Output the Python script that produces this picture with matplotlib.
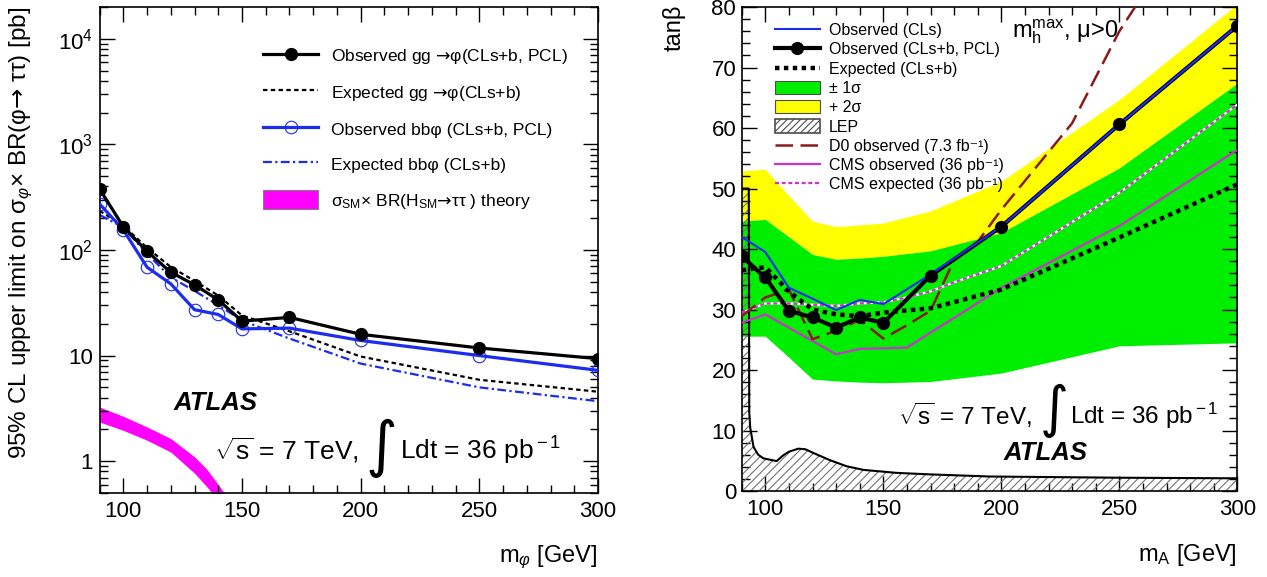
import numpy as np
import matplotlib
matplotlib.use('Agg')
import matplotlib.pyplot as plt
from matplotlib.lines import Line2D
from matplotlib.patches import Patch
from matplotlib.ticker import FixedLocator, FixedFormatter, MultipleLocator, LogLocator, NullFormatter

plt.rcParams['font.family'] = ['Liberation Sans', 'DejaVu Sans']
plt.rcParams['mathtext.fontset'] = 'custom'
plt.rcParams['mathtext.rm'] = 'Liberation Sans'
plt.rcParams['mathtext.it'] = 'Liberation Sans:italic'
plt.rcParams['mathtext.bf'] = 'Liberation Sans:bold'
plt.rcParams['mathtext.sf'] = 'DejaVu Sans'
plt.rcParams['hatch.linewidth'] = 0.8

# ---- left: cross section limits ----
mass = [90, 100, 110, 120, 130, 140, 150, 170, 200, 250, 300]
obs_gg = [378, 166, 97, 61.5, 46.8, 33.7, 21.2, 23.0, 15.9, 11.8, 9.35]
exp_gg = [235, 170, 105, 69, 51, 37, 24, 17, 9.8, 5.9, 4.55]
obs_bb = [273, 155, 68.7, 47.8, 27.2, 24.5, 17.9, 18.2, 13.9, 10.0, 7.25]
exp_bb = [215, 164, 92, 55, 41, 30, 21.5, 14.5, 8.4, 5.0, 3.7]
sm_mass = [90, 100, 110, 120, 130, 135, 140, 145]
sm_hi = [3.26, 2.66, 2.11, 1.64, 1.10, 0.85, 0.60, 0.42]
sm_lo = [2.35, 1.96, 1.58, 1.22, 0.77, 0.58, 0.42, 0.30]

# ---- right: tan(beta) limits ----
ma = [90, 100, 110, 120, 130, 140, 150, 170, 200, 250, 300]
obs_pcl = [38.8, 35.3, 29.8, 28.7, 27.0, 28.7, 27.8, 35.6, 43.7, 60.6, 76.9]
obs_cls = [42.0, 39.5, 33.6, 31.8, 29.9, 31.6, 30.9, 35.8, 43.7, 60.6, 76.9]
exp_clsb = [36.5, 37.0, 33.0, 30.0, 29.2, 28.9, 29.5, 30.2, 33.3, 41.9, 50.7]
sig1_lo = [25.6, 25.6, 22.1, 18.5, 18.2, 18.0, 17.9, 18.1, 19.5, 24.0, 24.5]
sig1_hi = [44.6, 44.9, 42.0, 39.1, 38.3, 38.5, 38.8, 39.7, 42.7, 53.4, 67.4]
sig2_hi = [52.9, 53.2, 48.8, 44.6, 43.7, 44.0, 44.3, 46.3, 51.2, 64.7, 80.5]
d0_m = [90, 100, 110, 120, 130, 140, 150, 160, 170, 180, 190, 200, 230, 250, 260]
d0_tb = [28.9, 32.0, 33.3, 25.1, 26.5, 28.3, 25.2, 27.4, 29.8, 38.2, 41.2, 46.5, 60.8, 76.0, 82.0]
cms_m = [90, 100, 110, 120, 130, 140, 150, 160, 170, 180, 200, 250, 300]
cms_obs = [27.8, 29.2, 27.0, 24.8, 22.6, 23.5, 23.6, 23.7, 26.2, 28.6, 33.6, 43.8, 56.4]
cms_exp = [29.5, 31.0, 31.0, 30.8, 30.6, 31.0, 31.2, 32.0, 33.0, 34.5, 37.2, 49.3, 63.9]
lep_m = [90, 93, 93.2, 93.6, 95, 97, 99.2, 104.8, 107.6, 110, 114, 117, 120.3,
         127.4, 134.4, 141.5, 155.6, 169.8, 195, 250, 300]
lep_tb = [50, 50, 13, 10.5, 7.3, 6.0, 5.4, 4.95, 5.9, 6.5, 7.0, 6.9, 6.3,
          5.1, 4.1, 3.5, 3.0, 2.75, 2.4, 2.2, 2.1]

blue = '#1c2cf0'
d0_col = '#8b1a1a'
cms_col = '#cc33cc'
arrow = r'$\mathsf{→}$'


def root_style(ax):
    ax.tick_params(which='both', direction='in', top=True, right=True, labelsize=16)
    ax.tick_params(which='major', length=11, width=1)
    ax.tick_params(which='minor', length=5.5, width=1)
    for s in ax.spines.values():
        s.set_linewidth(1.2)


fig = plt.figure(figsize=(12.67, 5.77), dpi=100)

# ================= left panel =================
ax1 = fig.add_axes([0.0786, 0.1456, 0.3934, 0.8423])
ax1.set_yscale('log')
ax1.fill_between(sm_mass, sm_lo, sm_hi, color='#ff00ff', lw=0, zorder=1)
ax1.plot(mass, exp_gg, color='black', ls=(0, (2, 1.5)), lw=1.6, zorder=2)
ax1.plot(mass, exp_bb, color=blue, ls=(0, (4, 1.5, 1, 1.5)), lw=1.6, zorder=2)
ax1.plot(mass, obs_bb, color=blue, lw=2.3, marker='o', ms=9, mfc='none',
         mec=blue, mew=0.8, zorder=3)
ax1.plot(mass, obs_gg, color='black', lw=2.3, marker='o', ms=8.5, zorder=4)

ax1.set_xlim(90, 300)
ax1.set_ylim(0.5, 2e4)
root_style(ax1)
ax1.xaxis.set_major_locator(FixedLocator([100, 150, 200, 250, 300]))
ax1.xaxis.set_minor_locator(MultipleLocator(10))
ax1.yaxis.set_major_locator(FixedLocator([1, 10, 100, 1000, 10000]))
ax1.yaxis.set_major_formatter(FixedFormatter(['1', '10', '$10^{2}$', '$10^{3}$', '$10^{4}$']))
ax1.yaxis.set_minor_locator(LogLocator(base=10, subs=np.arange(2, 10)))
ax1.yaxis.set_minor_formatter(NullFormatter())
ax1.tick_params(axis='x', pad=6)
ax1.tick_params(axis='y', pad=5)

ax1.set_xlabel(r'm$_{φ}$ [GeV]', fontsize=17, loc='right')
ax1.xaxis.set_label_coords(1.0, -0.105)
ax1.set_ylabel(r'95% CL upper limit on σ$_{φ}$× BR(φ' + arrow + r' ττ) [pb]',
               fontsize=17.5, loc='top')
ax1.yaxis.set_label_coords(-0.13, 1.0)

h1 = [Line2D([], [], color='black', lw=2.3, marker='o', ms=8.5),
      Line2D([], [], color='black', ls=(0, (2, 1.5)), lw=1.6),
      Line2D([], [], color=blue, lw=2.3, marker='o', ms=9, mfc='none', mec=blue, mew=0.8),
      Line2D([], [], color=blue, ls=(0, (4, 1.5, 1, 1.5)), lw=1.6),
      Patch(facecolor='#ff00ff', edgecolor='0.5', lw=0.8)]
l1 = ['Observed gg ' + arrow + 'φ(CLs+b, PCL)',
      'Expected gg ' + arrow + 'φ(CLs+b)',
      'Observed bbφ (CLs+b, PCL)',
      'Expected bbφ (CLs+b)',
      r'σ$_{\rm SM}$× BR(H$_{\rm SM}$' + arrow + r'ττ ) theory']
ax1.legend(h1, l1, loc='upper left', bbox_to_anchor=(0.3275, 0.92), frameon=False,
           fontsize=12.5, borderpad=0, borderaxespad=0, handlelength=3.2,
           handletextpad=0.7, labelspacing=0.95, handleheight=1.3)

ax1.text(138.7, 3.57, 'ATLAS', fontsize=18.5, fontweight='bold', fontstyle='italic',
         ha='center', va='center')
ax1.text(138.1, 1.26, r'$\sqrt{\rm s}$ = 7 TeV,', fontsize=19, ha='left', va='center')
ax1.text(208.6, 1.32, '∫', fontsize=44, ha='center', va='center', family='DejaVu Sans')
ax1.text(216.5, 1.26, r'Ldt = 36 pb$^{\rm -1}$', fontsize=19, ha='left', va='center')

# ================= right panel =================
ax2 = fig.add_axes([0.5854, 0.149, 0.3912, 0.8388])
ax2.fill_between(ma, sig1_hi, sig2_hi, color='#ffff00', lw=0, zorder=1)
ax2.fill_between(ma, sig1_lo, sig1_hi, color='#00ee00', lw=0, zorder=1)
ax2.fill_between(lep_m, 0, lep_tb, facecolor='none', edgecolor='0.45', hatch='////',
                 lw=0, zorder=2)
ax2.plot(lep_m, lep_tb, color='black', lw=1.5, zorder=2)
ax2.plot(cms_m, cms_exp, color='white', lw=1.6, zorder=3)
ax2.plot(cms_m, cms_exp, color=cms_col, lw=1.6, ls=(0, (1.8, 1.2)), zorder=3)
ax2.plot(cms_m, cms_obs, color=cms_col, lw=1.6, zorder=3)
ax2.plot(d0_m, d0_tb, color=d0_col, lw=1.8, ls=(0, (7, 3)), zorder=3)
ax2.plot(ma, exp_clsb, color='black', lw=3.2, ls=(0, (1, 1)), zorder=4)
ax2.plot(ma, obs_pcl, color='black', lw=3, zorder=5)
ax2.plot(ma, obs_cls, color=blue, lw=1.5, zorder=6)
ax2.plot(ma, obs_pcl, color='black', ls='none', marker='o', ms=8.5, zorder=7)

ax2.set_xlim(90, 300)
ax2.set_ylim(0, 80)
root_style(ax2)
ax2.xaxis.set_major_locator(FixedLocator([100, 150, 200, 250, 300]))
ax2.xaxis.set_minor_locator(MultipleLocator(10))
ax2.yaxis.set_major_locator(MultipleLocator(10))
ax2.yaxis.set_minor_locator(MultipleLocator(2))
ax2.tick_params(axis='x', pad=6)
ax2.tick_params(axis='y', pad=4)

ax2.set_xlabel(r'm$_{\rm A}$ [GeV]', fontsize=17, loc='right')
ax2.xaxis.set_label_coords(1.0, -0.105)
ax2.set_ylabel('tanβ', fontsize=17, loc='top')
ax2.yaxis.set_label_coords(-0.114, 1.006)

h2 = [Line2D([], [], color=blue, lw=1.5),
      Line2D([], [], color='black', lw=3, marker='o', ms=8.5),
      Line2D([], [], color='black', lw=3.2, ls=(0, (1, 1))),
      Patch(facecolor='#00ee00', edgecolor='0.3', lw=0.8),
      Patch(facecolor='#ffff00', edgecolor='0.3', lw=0.8),
      Patch(facecolor='white', edgecolor='0.3', hatch='/////', lw=1.2),
      Line2D([], [], color=d0_col, lw=1.8, ls=(0, (7, 3))),
      Line2D([], [], color=cms_col, lw=1.6),
      Line2D([], [], color=cms_col, lw=1.6, ls=(0, (1.8, 1.2)))]
l2 = ['Observed (CLs)', 'Observed (CLs+b, PCL)', 'Expected (CLs+b)',
      '± 1σ', '+ 2σ', 'LEP', 'D0 observed (7.3 fb⁻¹)',
      'CMS observed (36 pb⁻¹)', 'CMS expected (36 pb⁻¹)']
ax2.legend(h2, l2, loc='upper left', bbox_to_anchor=(0.067, 0.967), frameon=False,
           fontsize=11.5, borderpad=0, borderaxespad=0, handlelength=2.8,
           handletextpad=0.58, labelspacing=0.26, handleheight=0.9)

ax2.text(204.4, 75.9, r'm$_{\rm h}^{\rm max}$, μ>0', fontsize=17, ha='left', va='center')
ax2.text(156.1, 12.5, r'$\sqrt{\rm s}$ = 7 TeV,', fontsize=17.5, ha='left', va='center')
ax2.text(222.3, 13.2, '∫', fontsize=40, ha='center', va='center', family='DejaVu Sans')
ax2.text(229.0, 12.5, r'Ldt = 36 pb$^{\rm -1}$', fontsize=17.5, ha='left', va='center')
ax2.text(218.8, 6.3, 'ATLAS', fontsize=18.5, fontweight='bold', fontstyle='italic',
         ha='center', va='center')

fig.savefig('out.png', dpi=100)
